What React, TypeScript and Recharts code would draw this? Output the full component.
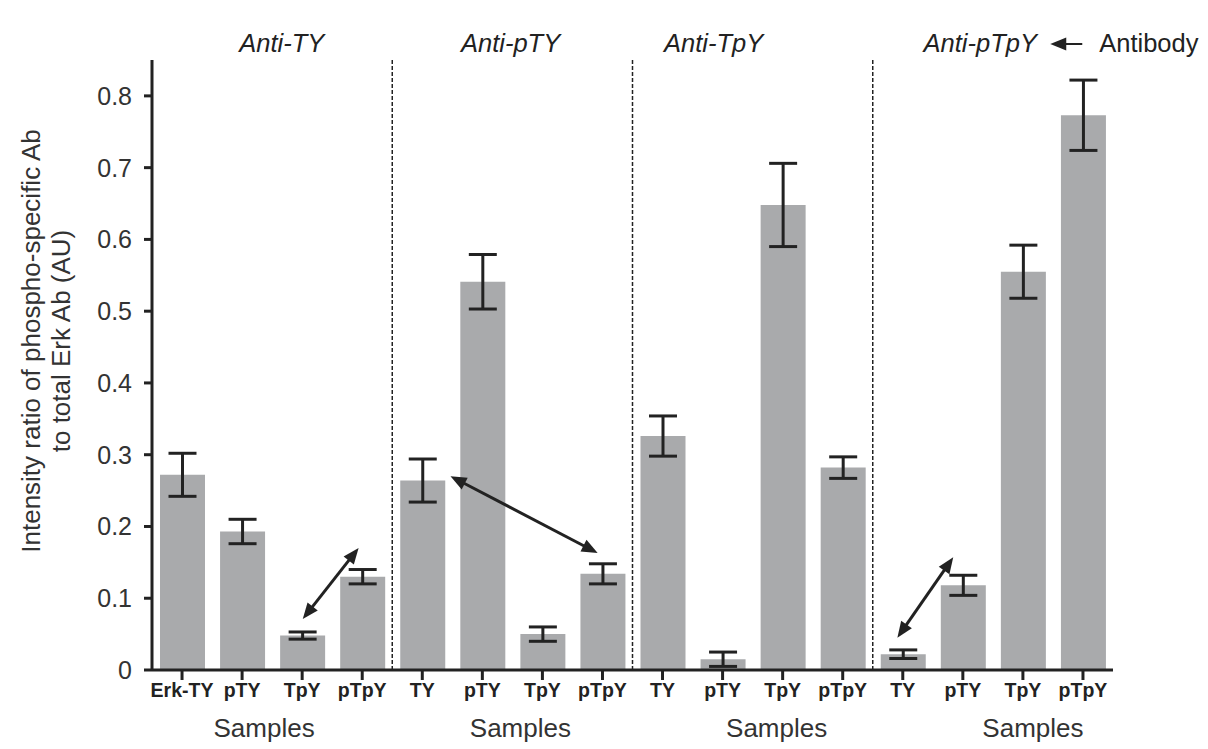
import { BarChart, Bar, XAxis, YAxis, ErrorBar, ReferenceLine } from 'recharts';

const samples = ['Erk-TY', 'pTY', 'TpY', 'pTpY', 'TY', 'pTY', 'TpY', 'pTpY', 'TY', 'pTY', 'TpY', 'pTpY', 'TY', 'pTY', 'TpY', 'pTpY'];
const means = [0.272, 0.193, 0.048, 0.13, 0.264, 0.541, 0.05, 0.134, 0.326, 0.015, 0.648, 0.282, 0.022, 0.118, 0.555, 0.773];
const errors = [0.03, 0.017, 0.005, 0.01, 0.03, 0.038, 0.01, 0.014, 0.028, 0.01, 0.058, 0.015, 0.006, 0.014, 0.037, 0.049];

const antibodies = ['Anti-TY', 'Anti-pTY', 'Anti-TpY', 'Anti-pTpY'];
const titlePos = [1.66, 5.47, 8.85, 13.29];
const separators = [3.5, 7.5, 11.5];
const samplesPos = [1.75, 5.75, 9.75, 13.75];
const yTicks = [0, 0.1, 0.2, 0.3, 0.4, 0.5, 0.6, 0.7, 0.8];

// double headed arrows between compared bars: [x1, y1, x2, y2] in data units
const arrows = [
  [2.01, 0.071, 2.94, 0.17],
  [4.47, 0.27, 6.92, 0.163],
  [11.91, 0.045, 12.84, 0.157],
];

const data = samples.map((s, i) => ({ idx: i, sample: s, value: means[i], err: errors[i] }));

const FONT = '"Liberation Sans", Arial, Helvetica, sans-serif';
const INK = '#222';

function head(x: number, y: number, ang: number) {
  const len = 16;
  const half = 6.5;
  const bx = x - len * Math.cos(ang);
  const by = y - len * Math.sin(ang);
  const px = -Math.sin(ang) * half;
  const py = Math.cos(ang) * half;
  return `${x},${y} ${bx + px},${by + py} ${bx - px},${by - py}`;
}

function ArrowShape(props: any) {
  const { x1, y1, x2, y2 } = props;
  const ang = Math.atan2(y2 - y1, x2 - x1);
  const back = Math.atan2(y1 - y2, x1 - x2);
  const sx = x1 + 12 * Math.cos(ang);
  const sy = y1 + 12 * Math.sin(ang);
  const ex = x2 - 12 * Math.cos(ang);
  const ey = y2 - 12 * Math.sin(ang);
  return (
    <g>
      <line x1={sx} y1={sy} x2={ex} y2={ey} stroke={INK} strokeWidth={3} />
      <polygon points={head(x2, y2, ang)} fill={INK} />
      <polygon points={head(x1, y1, back)} fill={INK} />
    </g>
  );
}

function TitleLabel(props: any) {
  const { viewBox, value } = props;
  const x = viewBox.x;
  const y = viewBox.y - 8;
  const last = value === antibodies[antibodies.length - 1];
  return (
    <g>
      <text x={x} y={y} textAnchor="middle" fontFamily={FONT} fontSize={25.5} fontStyle="italic" fill={INK}>
        {value}
      </text>
      {last && (
        <g>
          <line x1={x + 76} y1={y - 8} x2={x + 102} y2={y - 8} stroke={INK} strokeWidth={2} />
          <polygon points={head(x + 70, y - 8, Math.PI)} fill={INK} />
          <text x={x + 119} y={y} fontFamily={FONT} fontSize={25.5} fill={INK}>
            Antibody
          </text>
        </g>
      )}
    </g>
  );
}

function YLabel(props: any) {
  const { viewBox } = props;
  const cy = viewBox.y + viewBox.height / 2 - 24;
  return (
    <g fontFamily={FONT} fontSize={26} fill="#333">
      <text transform={`translate(40, ${cy}) rotate(-90)`} textAnchor="middle">
        Intensity ratio of phospho-specific Ab
      </text>
      <text transform={`translate(70, ${cy}) rotate(-90)`} textAnchor="middle">
        to total Erk Ab (AU)
      </text>
    </g>
  );
}

export default function App() {
  return (
    <div style={{ position: 'absolute', left: 0, top: 0, background: '#fff' }}>
      <BarChart width={1208} height={749} data={data} margin={{ top: 60, right: 95, bottom: 0, left: 0 }}>
        <XAxis
          dataKey="idx"
          type="number"
          domain={[-0.5, 15.5]}
          ticks={data.map((d) => d.idx)}
          interval={0}
          tickFormatter={(i: number) => samples[i]}
          height={41}
          tickSize={10}
          tickMargin={3}
          axisLine={{ stroke: INK, strokeWidth: 3 }}
          tickLine={{ stroke: INK, strokeWidth: 3 }}
          tick={{ fill: INK, fontFamily: FONT, fontSize: 19.5, fontWeight: 700 }}
        />
        <XAxis
          xAxisId="grp"
          type="number"
          domain={[-0.5, 15.5]}
          ticks={samplesPos}
          interval={0}
          tickFormatter={() => 'Samples'}
          height={38}
          axisLine={false}
          tickLine={false}
          tick={{ fill: '#333', fontFamily: FONT, fontSize: 26 }}
        />
        <YAxis
          domain={[0, 0.85]}
          ticks={yTicks}
          interval={0}
          width={152}
          tickSize={8}
          tickMargin={12}
          tickFormatter={(v: number) => (v === 0 ? '0' : v.toFixed(1))}
          axisLine={{ stroke: INK, strokeWidth: 3 }}
          tickLine={{ stroke: INK, strokeWidth: 3 }}
          tick={{ fill: '#333', fontFamily: FONT, fontSize: 25 }}
          label={{ content: YLabel }}
        />
        {separators.map((x) => (
          <ReferenceLine key={x} x={x} stroke={INK} strokeWidth={1.5} strokeDasharray="4 2" />
        ))}
        <Bar dataKey="value" fill="#a9aaac" barSize={45} isAnimationActive={false}>
          <ErrorBar dataKey="err" width={14} strokeWidth={3} stroke={INK} isAnimationActive={false} />
        </Bar>
        {antibodies.map((a, i) => (
          <ReferenceLine key={a} x={titlePos[i]} stroke="none" label={{ value: a, content: TitleLabel }} />
        ))}
        {arrows.map((a, i) => (
          <ReferenceLine
            key={i}
            segment={[{ x: a[0], y: a[1] }, { x: a[2], y: a[3] }]}
            shape={ArrowShape}
          />
        ))}
      </BarChart>
    </div>
  );
}
